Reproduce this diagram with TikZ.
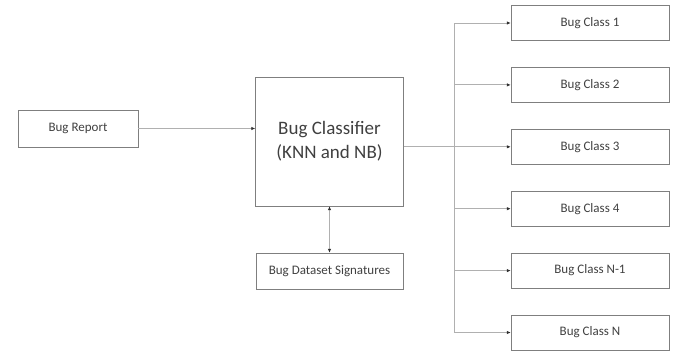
\documentclass[tikz,border=0pt]{standalone}
\usepackage{fontspec}
\setmainfont{Carlito}
\usetikzlibrary{arrows.meta,positioning}
\definecolor{edge}{HTML}{7F7F7F}
\definecolor{wire}{HTML}{B0B0B0}
\definecolor{ink}{HTML}{404040}
\definecolor{tip}{HTML}{303030}

\begin{document}
\begin{tikzpicture}[x=1pt,y=-1pt,node distance=26.5pt, every node/.style={font=\fontsize{13}{15}\selectfont,text=ink}, box/.style={draw=edge,inner sep=0pt,align=center}, cls/.style={box,minimum width=158pt,minimum height=35pt}, arr/.style={-{Latex[length=4pt,width=3.5pt,color=tip]},draw=wire,line width=0.9pt}, wire/.style={draw=wire,line width=0.9pt}]
\useasboundingbox (0,0) rectangle (675,351);
\node[box,minimum width=120pt,minimum height=37pt] (report) at (78,128.5) {Bug Report};
\node[box,minimum width=148pt,minimum height=129pt,font=\fontsize{19}{24}\selectfont] (classifier) at (329.5,141.5) {Bug Classifier\\(KNN and NB)};
\node[box,minimum width=147pt,minimum height=36pt] (dataset) at (329.5,271) {Bug Dataset Signatures};
\node[cls] (class1) at (590,23) {Bug Class 1};
\node[cls,below=of class1] (class2) {Bug Class 2};
\node[cls,below=of class2] (class3) {Bug Class 3};
\node[cls,below=of class3] (class4) {Bug Class 4};
\node[cls,below=of class4] (class5) {Bug Class N-1};
\node[cls,below=of class5] (class6) {Bug Class N};
\coordinate (bus) at (454,146);
\draw[arr] (report) -- (report -| classifier.west);
\draw[arr,{Latex[length=4pt,width=3.5pt,color=tip]}-{Latex[length=4pt,width=3.5pt,color=tip]}] (classifier) -- (dataset);
\draw[arr] (classifier.east |- class3) -- (class3);
\draw[wire] (bus |- class1) -- (bus |- class6);
\foreach \n in {1,2,4,5,6} \draw[arr] (bus |- class\n) -- (class\n);
\end{tikzpicture}
\end{document}
